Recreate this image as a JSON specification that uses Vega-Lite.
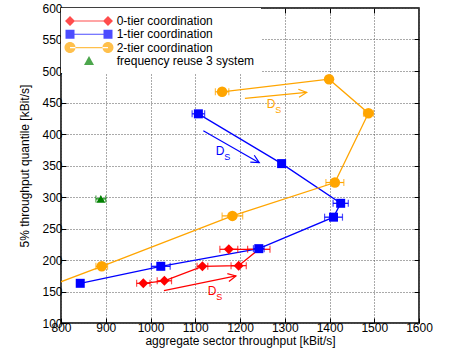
{
  "$schema": "https://vega.github.io/schema/vega-lite/v6.json",
  "width": 358,
  "height": 315,
  "autosize": "none",
  "padding": {"left": 61, "top": 8, "right": 39, "bottom": 35},
  "background": "white",
  "config": {
    "view": {"stroke": "#000", "strokeWidth": 1.5},
    "font": "Liberation Sans",
    "axis": {
      "labelFont": "Liberation Sans", "labelFontSize": 12, "labelColor": "#000",
      "titleFont": "Liberation Sans", "titleFontSize": 12, "titleFontWeight": "normal", "titleColor": "#000",
      "gridColor": "#555", "gridDash": [1, 2], "gridOpacity": 1, "gridWidth": 1,
      "domain": false, "tickColor": "#000", "tickSize": -5, "tickWidth": 1,
      "labelPadding": 4, "labelFlush": false, "labelOverlap": false, "format": "d", "tickCount": 20
    },
    "legend": {
      "orient": "none", "legendX": 0, "legendY": 0, "padding": 6, "fillColor": "white",
      "symbolSize": 196, "symbolOffset": 15, "labelOffset": 20.7, "labelFontSize": 12, "labelFont": "Liberation Sans",
      "labelColor": "#000", "symbolStrokeWidth": 0, "rowPadding": 0.3, "labelLimit": 400
    }
  },
  "datasets": {
    "pts": [
      {"series": "0-tier coordination", "i": 1, "x": 984, "y": 163, "lo": 969, "hi": 999},
      {"series": "0-tier coordination", "i": 2, "x": 1031, "y": 167, "lo": 1015, "hi": 1047},
      {"series": "0-tier coordination", "i": 3, "x": 1116, "y": 190, "lo": 1104, "hi": 1128},
      {"series": "0-tier coordination", "i": 4, "x": 1197, "y": 191, "lo": 1180, "hi": 1214},
      {"series": "0-tier coordination", "i": 5, "x": 1242, "y": 217, "lo": 1217, "hi": 1267},
      {"series": "0-tier coordination", "i": 6, "x": 1175, "y": 217, "lo": 1155, "hi": 1195},
      {"series": "1-tier coordination", "i": 1, "x": 843, "y": 163, "lo": 841, "hi": 845},
      {"series": "1-tier coordination", "i": 2, "x": 1023, "y": 190, "lo": 1002, "hi": 1044},
      {"series": "1-tier coordination", "i": 3, "x": 1242, "y": 218, "lo": 1230, "hi": 1254},
      {"series": "1-tier coordination", "i": 4, "x": 1409, "y": 268, "lo": 1389, "hi": 1429},
      {"series": "1-tier coordination", "i": 5, "x": 1425, "y": 290, "lo": 1408, "hi": 1442},
      {"series": "1-tier coordination", "i": 6, "x": 1293, "y": 353, "lo": 1289, "hi": 1297},
      {"series": "1-tier coordination", "i": 7, "x": 1107, "y": 432, "lo": 1093, "hi": 1121},
      {"series": "2-tier coordination", "i": 0, "x": 780, "y": 160},
      {"series": "2-tier coordination", "i": 1, "x": 891, "y": 190, "lo": 878, "hi": 904},
      {"series": "2-tier coordination", "i": 2, "x": 1183, "y": 270, "lo": 1160, "hi": 1206},
      {"series": "2-tier coordination", "i": 3, "x": 1412, "y": 323, "lo": 1392, "hi": 1432},
      {"series": "2-tier coordination", "i": 4, "x": 1487, "y": 433, "lo": 1476, "hi": 1498},
      {"series": "2-tier coordination", "i": 5, "x": 1399, "y": 487, "lo": 1396, "hi": 1402},
      {"series": "2-tier coordination", "i": 6, "x": 1160, "y": 467, "lo": 1145, "hi": 1175},
      {"series": "frequency reuse 3 system", "i": 1, "x": 889, "y": 297, "lo": 878, "hi": 900}
    ],
    "arrows": [
      {"series": "2-tier coordination", "x": 1211, "y": 456.7, "x2": 1349, "y2": 466, "tx": 1259.7, "ty": 440.8},
      {"series": "1-tier coordination", "x": 1118, "y": 405, "x2": 1243, "y2": 354.5, "tx": 1145.7, "ty": 366.7},
      {"series": "0-tier coordination", "x": 1030, "y": 151.3, "x2": 1191, "y2": 174.7, "tx": 1127.8, "ty": 144.5}
    ]
  },
  "resolve": {"axis": {"x": "independent", "y": "independent"}},
  "layer": [
    {
      "layer": [
        {
          "data": {"name": "pts"},
          "transform": [{"filter": "datum.series != 'frequency reuse 3 system'"}],
          "mark": {"type": "line", "strokeWidth": 1.3, "clip": true},
          "encoding": {
            "x": {"field": "x", "type": "quantitative",
              "scale": {"domain": [800, 1600], "nice": false, "zero": false},
              "axis": {"tickCount": 20, "values": [800, 900, 1000, 1100, 1200, 1300, 1400, 1500, 1600], "title": "aggregate sector throughput [kBit/s]", "titlePadding": 2}},
            "y": {"field": "y", "type": "quantitative",
              "scale": {"domain": [100, 600], "nice": false, "zero": false},
              "axis": {"tickCount": 20, "values": [100, 150, 200, 250, 300, 350, 400, 450, 500, 550, 600], "title": "5% throughput quantile [kBit/s]", "titleX": -32.7, "titleBaseline": "alphabetic"}},
            "color": {"field": "series", "type": "nominal",
              "scale": {"domain": ["0-tier coordination", "1-tier coordination", "2-tier coordination", "frequency reuse 3 system"],
                        "range": ["#ff0000", "#0000ff", "#ffa500", "#008000"]},
              "legend": {"title": null}},
            "order": {"field": "i", "type": "quantitative"}
          }
        },
        {
          "data": {"name": "pts"},
          "transform": [{"filter": "isValid(datum.lo)"}],
          "mark": {"type": "rule", "strokeWidth": 1.2, "clip": true},
          "encoding": {
            "x": {"field": "lo", "type": "quantitative"},
            "x2": {"field": "hi"},
            "y": {"field": "y", "type": "quantitative"},
            "color": {"field": "series", "type": "nominal"}
          }
        },
        {
          "data": {"name": "pts"},
          "transform": [{"filter": "isValid(datum.lo)"}],
          "mark": {"type": "tick", "orient": "vertical", "size": 7, "thickness": 1.2, "clip": true},
          "encoding": {
            "x": {"field": "lo", "type": "quantitative"},
            "y": {"field": "y", "type": "quantitative"},
            "color": {"field": "series", "type": "nominal"}
          }
        },
        {
          "data": {"name": "pts"},
          "transform": [{"filter": "isValid(datum.lo)"}],
          "mark": {"type": "tick", "orient": "vertical", "size": 7, "thickness": 1.2, "clip": true},
          "encoding": {
            "x": {"field": "hi", "type": "quantitative"},
            "y": {"field": "y", "type": "quantitative"},
            "color": {"field": "series", "type": "nominal"}
          }
        },
        {
          "data": {"name": "pts"},
          "transform": [{"filter": "datum.series == '2-tier coordination'"}],
          "mark": {"type": "point", "shape": "circle", "filled": true, "opacity": 1, "size": 110, "clip": true},
          "encoding": {
            "x": {"field": "x", "type": "quantitative"},
            "y": {"field": "y", "type": "quantitative"},
            "color": {"field": "series", "type": "nominal"}
          }
        },
        {
          "data": {"name": "pts"},
          "transform": [{"filter": "datum.series == '1-tier coordination'"}],
          "mark": {"type": "point", "shape": "square", "filled": true, "opacity": 1, "size": 81, "clip": true},
          "encoding": {
            "x": {"field": "x", "type": "quantitative"},
            "y": {"field": "y", "type": "quantitative"},
            "color": {"field": "series", "type": "nominal"}
          }
        },
        {
          "data": {"name": "pts"},
          "transform": [{"filter": "datum.series == '0-tier coordination' && datum.i != 5"}],
          "mark": {"type": "point", "shape": "diamond", "filled": true, "opacity": 1, "size": 100, "clip": true},
          "encoding": {
            "x": {"field": "x", "type": "quantitative"},
            "y": {"field": "y", "type": "quantitative"},
            "color": {"field": "series", "type": "nominal"}
          }
        },
        {
          "data": {"name": "pts"},
          "transform": [{"filter": "datum.series == 'frequency reuse 3 system'"}],
          "mark": {"type": "point", "shape": "triangle-up", "filled": true, "opacity": 1, "size": 80, "clip": true},
          "encoding": {
            "x": {"field": "x", "type": "quantitative"},
            "y": {"field": "y", "type": "quantitative"},
            "color": {"field": "series", "type": "nominal"}
          }
        },
        {
          "data": {"name": "arrows"},
          "mark": {"type": "rule", "strokeWidth": 1.2},
          "encoding": {
            "x": {"field": "x", "type": "quantitative"},
            "y": {"field": "y", "type": "quantitative"},
            "x2": {"field": "x2"},
            "y2": {"field": "y2"},
            "color": {"field": "series", "type": "nominal"}
          }
        },
        {
          "data": {"name": "arrows"},
          "transform": [{"filter": "datum.series == '2-tier coordination'"}],
          "mark": {"type": "point", "shape": "M-1,-0.5L0,0L-1,0.5", "filled": false, "opacity": 1, "size": 256, "strokeWidth": 1.2, "angle": -5.5},
          "encoding": {
            "x": {"field": "x2", "type": "quantitative"},
            "y": {"field": "y2", "type": "quantitative"},
            "color": {"field": "series", "type": "nominal"}
          }
        },
        {
          "data": {"name": "arrows"},
          "transform": [{"filter": "datum.series == '1-tier coordination'"}],
          "mark": {"type": "point", "shape": "M-1,-0.5L0,0L-1,0.5", "filled": false, "opacity": 1, "size": 256, "strokeWidth": 1.2, "angle": 29.7},
          "encoding": {
            "x": {"field": "x2", "type": "quantitative"},
            "y": {"field": "y2", "type": "quantitative"},
            "color": {"field": "series", "type": "nominal"}
          }
        },
        {
          "data": {"name": "arrows"},
          "transform": [{"filter": "datum.series == '0-tier coordination'"}],
          "mark": {"type": "point", "shape": "M-1,-0.5L0,0L-1,0.5", "filled": false, "opacity": 1, "size": 256, "strokeWidth": 1.2, "angle": -11.5},
          "encoding": {
            "x": {"field": "x2", "type": "quantitative"},
            "y": {"field": "y2", "type": "quantitative"},
            "color": {"field": "series", "type": "nominal"}
          }
        },
        {
          "data": {"name": "arrows"},
          "mark": {"type": "text", "text": "D", "font": "Liberation Sans", "fontSize": 12, "align": "left", "baseline": "alphabetic"},
          "encoding": {
            "x": {"field": "tx", "type": "quantitative"},
            "y": {"field": "ty", "type": "quantitative"},
            "color": {"field": "series", "type": "nominal"}
          }
        },
        {
          "data": {"name": "arrows"},
          "mark": {"type": "text", "text": "S", "font": "Liberation Sans", "fontSize": 9, "align": "left", "baseline": "alphabetic", "dx": 8.5, "dy": 5},
          "encoding": {
            "x": {"field": "tx", "type": "quantitative"},
            "y": {"field": "ty", "type": "quantitative"},
            "color": {"field": "series", "type": "nominal"}
          }
        },
        {
          "data": {"name": "pts"},
          "transform": [{"filter": "datum.i == 1"}],
          "mark": {"type": "point", "filled": true, "opacity": 0, "size": 0},
          "encoding": {
            "x": {"field": "x", "type": "quantitative"},
            "y": {"field": "y", "type": "quantitative"},
            "color": {"field": "series", "type": "nominal"},
            "shape": {"field": "series", "type": "nominal",
              "scale": {"domain": ["0-tier coordination", "1-tier coordination", "2-tier coordination", "frequency reuse 3 system"],
                "range": [
                  "M-3.428,0L-2.714,-0.714L-2,0L-2.714,0.714Z M2,0L2.714,-0.714L3.428,0L2.714,0.714Z M-2.714,-0.08H2.714V0.08H-2.714Z",
                  "M-3.357,-0.643H-2.071V0.643H-3.357Z M2.071,-0.643H3.357V0.643H2.071Z M-2.714,-0.08H2.714V0.08H-2.714Z",
                  "M-3.5,0A0.786,0.786 0 1,0 -1.928,0A0.786,0.786 0 1,0 -3.5,0Z M1.928,0A0.786,0.786 0 1,0 3.5,0A0.786,0.786 0 1,0 1.928,0Z M-2.714,-0.08H2.714V0.08H-2.714Z",
                  "M0,-0.714L0.714,0.571L-0.714,0.571Z"
                ]},
              "legend": {"title": null, "symbolOpacity": 1}}
          }
        }
      ]
    },
    {
      "data": {"name": "pts"},
      "mark": {"type": "point", "opacity": 0, "size": 0},
      "encoding": {
        "x": {"field": "x", "type": "quantitative",
          "axis": {"orient": "top", "labels": false, "grid": false, "title": null, "tickCount": 20, "values": [900, 1000, 1100, 1200, 1300, 1400, 1500]}},
        "y": {"field": "y", "type": "quantitative",
          "axis": {"orient": "right", "labels": false, "grid": false, "title": null, "tickCount": 20, "values": [150, 200, 250, 300, 350, 400, 450, 500, 550]}}
      }
    }
  ]
}
